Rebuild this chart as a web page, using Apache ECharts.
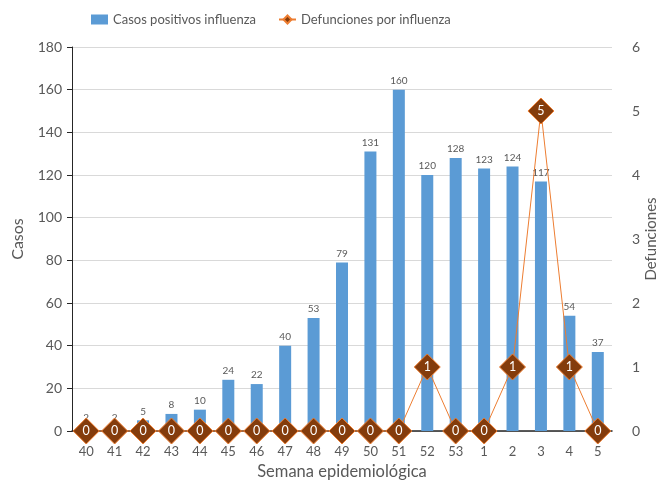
<!DOCTYPE html>
<html><head><meta charset="utf-8">
<script src="https://cdn.jsdelivr.net/npm/echarts@6/dist/echarts.min.js"></script>
<style>html,body{margin:0;padding:0;background:#fff}#c{width:670px;height:481px}</style>
</head><body><div id="c"></div>
<script>
const semanas = ['40','41','42','43','44','45','46','47','48','49','50','51','52','53','1','2','3','4','5'];
const casos = [2,2,5,8,10,24,22,40,53,79,131,160,120,128,123,124,117,54,37];
const defunciones = [0,0,0,0,0,0,0,0,0,0,0,0,1,0,0,1,5,1,0];
const ticksCasos = [0,20,40,60,80,100,120,140,160,180];
const ticksDef = [0,1,2,3,4,5,6];

const FONT = 'Lato';
const chart = echarts.init(document.getElementById('c'));
chart.setOption({
  animation: false,
  textStyle: {fontFamily: FONT},
  legend: {
    top: 8, left: 86, itemGap: 22,
    textStyle: {fontSize: 13, color: '#595959', fontFamily: FONT},
    data: [
      {name: 'Casos positivos influenza', icon: 'rect', itemStyle:{color:'#5B9BD5'}},
      {name: 'Defunciones por influenza'}
    ],
    itemWidth: 17, itemHeight: 10
  },
  grid: {left: 72, right: 58, top: 47, bottom: 50, outerBoundsMode: 'none', containLabel: false},
  xAxis: {
    type: 'category', data: semanas,
    name: 'Semana epidemiológica', nameLocation: 'middle', nameGap: 32, nameMoveOverlap: false,
    nameTextStyle: {fontSize: 16.5, color: '#595959'},
    axisLine: {lineStyle: {color: '#262626', width: 1.5}},
    axisTick: {show: false},
    axisLabel: {color: '#595959', fontSize: 13, margin: 14}
  },
  yAxis: [
    {
      type: 'value', min: ticksCasos[0], max: ticksCasos[ticksCasos.length-1], interval: 20,
      name: 'Casos', nameLocation: 'middle', nameGap: 46, nameMoveOverlap: false,
      nameTextStyle: {fontSize: 16, color: '#595959'},
      axisLine: {show: true, lineStyle: {color: '#262626'}},
      axisTick: {show: true, length: 5, lineStyle:{color:'#262626'}},
      axisLabel: {color: '#595959', fontSize: 14, margin: 10},
      splitLine: {lineStyle: {color: '#D9D9D9'}}
    },
    {
      type: 'value', min: ticksDef[0], max: ticksDef[ticksDef.length-1], interval: 1,
      name: 'Defunciones', nameLocation: 'middle', nameGap: 32, nameMoveOverlap: false,
      nameTextStyle: {fontSize: 15, color: '#595959'},
      axisLine: {show: false}, axisTick: {show: false},
      axisLabel: {color: '#595959', fontSize: 14, margin: 20},
      splitLine: {show: false}
    }
  ],
  series: [
    {
      name: 'Casos positivos influenza', type: 'bar', data: casos, barWidth: 12,
      itemStyle: {color: '#5B9BD5'},
      label: {show: true, position: 'top', color: '#595959', fontSize: 10, distance: 4}
    },
    {
      name: 'Defunciones por influenza', type: 'line', yAxisIndex: 1, data: defunciones,
      symbol: 'diamond', symbolSize: 26, clip: false,
      lineStyle: {color: '#ED7D31', width: 1},
      itemStyle: {color: '#843C0C', borderColor: '#ED7D31', borderWidth: 1},
      label: {show: true, position: 'inside', color: '#fff', fontSize: 12.5}
    }
  ]
});
</script></body></html>
